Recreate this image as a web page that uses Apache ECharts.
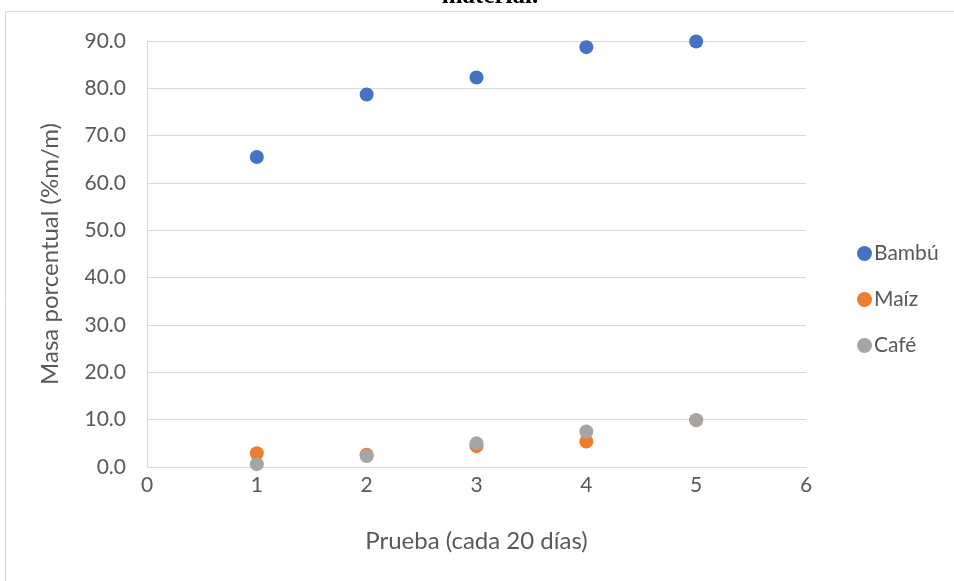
<!DOCTYPE html>
<html><head><meta charset="utf-8">
<script src="https://cdn.jsdelivr.net/npm/echarts@6/dist/echarts.min.js"></script>
<style>html,body{margin:0;padding:0;background:#fff}#c{width:954px;height:581px}</style>
</head><body><div id="c"></div>
<script>
const categories = [1, 2, 3, 4, 5];
const bambu = [65.5, 78.7, 82.3, 88.7, 89.9];
const maiz = [2.9, 2.6, 4.4, 5.4, 9.9];
const cafe = [0.6, 2.3, 5.0, 7.5, 9.9];
const seriesNames = ['Bambú', 'Maíz', 'Café'];
const colors = ['#4472C4', '#ED7D31', '#A5A5A5'];
const font = 'Lato';

const chart = echarts.init(document.getElementById('c'));
const mk = (name, vals, color) => ({
  name, type: 'scatter', symbol: 'circle', symbolSize: 14,
  itemStyle: { color, opacity: 1 },
  data: categories.map((c, i) => [c, vals[i]])
});
chart.setOption({
  animation: false,
  textStyle: { fontFamily: font },
  graphic: [
    { type: 'rect', shape: { x: 5.5, y: 11.5, width: 1000, height: 600 }, style: { fill: 'none', stroke: '#d9d9d9', lineWidth: 1 }, silent: true },
    { type: 'text', x: 490, y: 9, style: { text: 'material.', font: 'bold 25px "Liberation Serif"', fill: '#000', textAlign: 'center', textVerticalAlign: 'bottom' } }
  ],
  grid: { left: 147, right: 148, top: 41, bottom: 114 },
  legend: {
    orient: 'vertical', left: 852, top: 238, itemGap: 25, itemWidth: 15, itemHeight: 15,
    icon: 'circle', data: seriesNames,
    textStyle: { fontFamily: font, fontSize: 21, color: '#595959', padding: [0, 0, 0, -3] }
  },
  xAxis: {
    type: 'value', min: 0, max: 6, interval: 1,
    name: 'Prueba (cada 20 días)', nameLocation: 'middle', nameGap: 62,
    nameTextStyle: { fontFamily: font, fontSize: 24, color: '#595959' },
    axisLine: { show: true, lineStyle: { color: '#d9d9d9', width: 1 } },
    axisTick: { show: false },
    axisLabel: { fontFamily: font, fontSize: 21, color: '#595959', margin: 8 },
    splitLine: { show: false }
  },
  yAxis: {
    type: 'value', min: 0, max: 90, interval: 10,
    name: 'Masa porcentual (%m/m)', nameLocation: 'middle', nameGap: 85,
    nameTextStyle: { fontFamily: font, fontSize: 24, color: '#595959' },
    axisLine: { show: true, lineStyle: { color: '#d9d9d9', width: 1 } },
    axisTick: { show: false },
    axisLabel: { fontFamily: font, fontSize: 21, color: '#595959', margin: 21, formatter: v => v.toFixed(1) },
    splitLine: { show: true, lineStyle: { color: '#d9d9d9', width: 1 } }
  },
  series: [mk(seriesNames[0], bambu, colors[0]), mk(seriesNames[1], maiz, colors[1]), mk(seriesNames[2], cafe, colors[2])]
});
</script></body></html>
